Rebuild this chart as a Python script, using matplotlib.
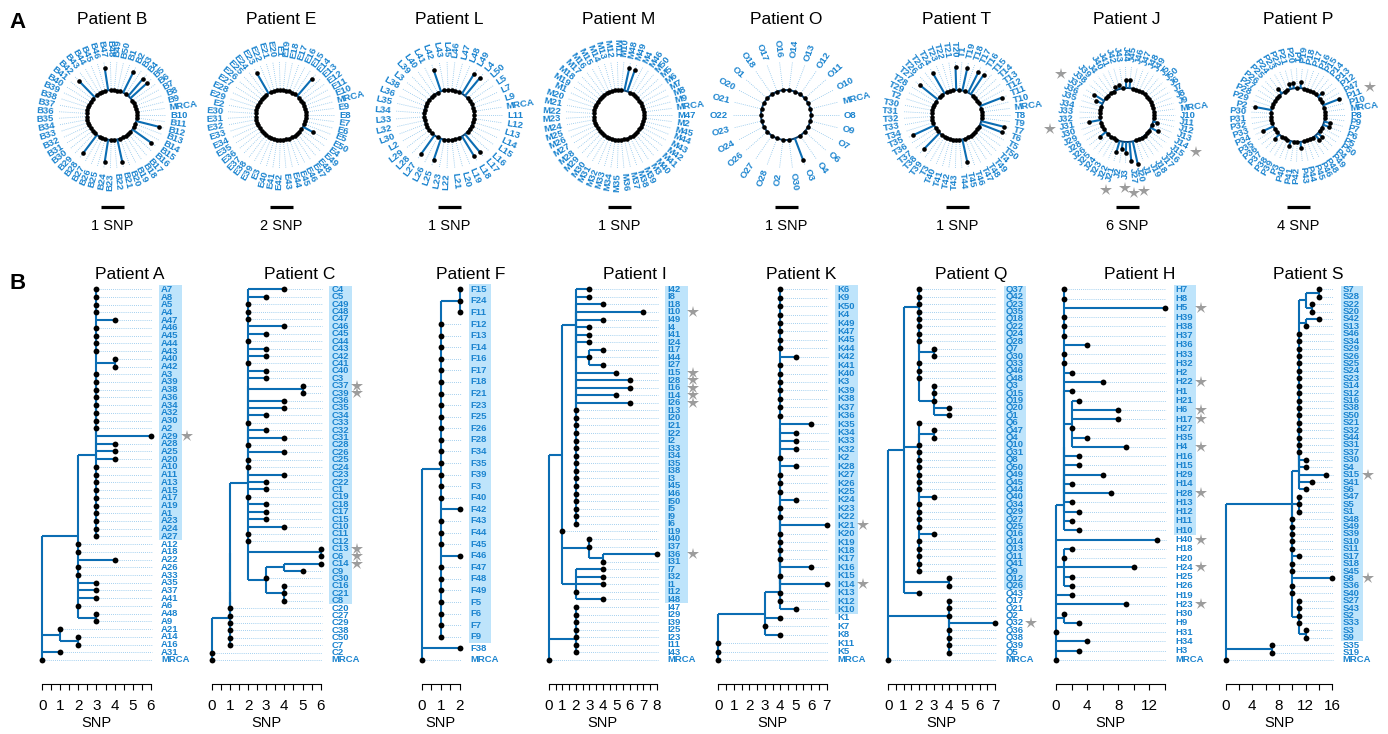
import numpy as np
import matplotlib
matplotlib.use("Agg")
import matplotlib.pyplot as plt
from matplotlib.patches import Rectangle

plt.rcParams['font.family'] = ['Liberation Sans', 'DejaVu Sans']

# ====================== DATA : panel A (circular trees) ======================
circ_patients = ['B', 'E', 'L', 'M', 'O', 'T', 'J', 'P']

B_labels = ['B10', 'MRCA', 'B9', 'B8', 'B7', 'B6', 'B5', 'B4', 'B3', 'B2', 'B1', 'B50', 'B49', 'B48',
            'B47', 'B46', 'B45', 'B44', 'B43', 'B42', 'B41', 'B40', 'B39', 'B38', 'B37', 'B36', 'B35',
            'B34', 'B33', 'B32', 'B31', 'B30', 'B29', 'B28', 'B27', 'B26', 'B25', 'B24', 'B23', 'B22',
            'B21', 'B20', 'B19', 'B18', 'B17', 'B16', 'B15', 'B14', 'B13', 'B12', 'B11']
B_branch = {'B5': 1, 'B4': 1, 'B2': 1, 'B47': 1, 'B42': 1, 'B28': 1, 'B24': 1, 'B21': 1, 'B15': 1, 'B12': 1}

E_labels = ['E8', 'E9', 'MRCA', 'E10', 'E11', 'E12', 'E13', 'E14', 'E15', 'E16', 'E17', 'E18', 'E19',
            'E1', 'E20', 'E21', 'E22', 'E23', 'E24', 'E25', 'E26', 'E27', 'E28', 'E29', 'E2', 'E30',
            'E31', 'E32', 'E33', 'E34', 'E35', 'E36', 'E37', 'E38', 'E39', 'E3', 'E40', 'E41', 'E42',
            'E43', 'E44', 'E45', 'E46', 'E47', 'E48', 'E49', 'E4', 'E50', 'E5', 'E6', 'E7']
E_branch = {'E23': 2, 'E14': 2, 'E50': 1}

L_labels = ['L11', 'MRCA', 'L9', 'L7', 'L5', 'L50', 'L4', 'L49', 'L48', 'L47', 'L46', 'L45', 'L43',
            'L42', 'L41', 'L40', 'L39', 'L3', 'L38', 'L36', 'L35', 'L34', 'L33', 'L32', 'L30', 'L2',
            'L29', 'L28', 'L27', 'L26', 'L25', 'L23', 'L22', 'L21', 'L20', 'L19', 'L18', 'L17', 'L16',
            'L15', 'L14', 'L13', 'L12']
L_branch = {'L42': 1, 'L49': 1, 'L4': 1, 'L27': 1, 'L25': 1, 'L18': 1, 'L17': 1}

M_labels = ['M47', 'MRCA', 'M9', 'M8', 'M7', 'M6', 'M5', 'M50', 'M46', 'M4', 'M49', 'M48', 'M10',
            'M11', 'M12', 'M13', 'M14', 'M15', 'M16', 'M17', 'M18', 'M19', 'M1', 'M20', 'M21', 'M22',
            'M23', 'M24', 'M25', 'M26', 'M27', 'M28', 'M29', 'M30', 'M31', 'M32', 'M33', 'M34', 'M35',
            'M36', 'M37', 'M38', 'M39', 'M3', 'M40', 'M41', 'M42', 'M43', 'M44', 'M45', 'M2']
M_branch = {'M49': 1, 'M48': 1}

O_labels = ['O8', 'MRCA', 'O10', 'O11', 'O12', 'O13', 'O14', 'O16', 'O17', 'O18', 'O1', 'O20', 'O21',
            'O22', 'O23', 'O24', 'O26', 'O27', 'O28', 'O2', 'O30', 'O3', 'O4', 'O6', 'O7', 'O9']
O_branch = {'O3': 1}

T_labels = ['T8', 'MRCA', 'T10', 'T11', 'T12', 'T13', 'T14', 'T15', 'T16', 'T17', 'T18', 'T19', 'T1',
            'T20', 'T21', 'T22', 'T23', 'T24', 'T25', 'T26', 'T27', 'T28', 'T29', 'T2', 'T30', 'T31',
            'T32', 'T33', 'T34', 'T35', 'T36', 'T37', 'T38', 'T39', 'T3', 'T40', 'T41', 'T42', 'T43',
            'T44', 'T45', 'T46', 'T47', 'T48', 'T49', 'T4', 'T50', 'T5', 'T6', 'T7', 'T9']
T_branch = {'T11': 1, 'T16': 1, 'T17': 1, 'T19': 1, 'T20': 1, 'T24': 1, 'T27': 1, 'T35': 1,
            'T38': 1, 'T45': 1, 'T6': 1, 'T7': 1}

J_labels = ['J10', 'MRCA', 'J9', 'J8', 'J7', 'J6', 'J50', 'J5', 'J49', 'J48', 'J47', 'J46', 'J45',
            'J44', 'J43', 'J42', 'J41', 'J40', 'J4', 'J39', 'J38', 'J37', 'J36', 'J35', 'J34', 'J33',
            'J32', 'J31', 'J30', 'J29', 'J28', 'J26', 'J25', 'J24', 'J23', 'J22', 'J21', 'J2', 'J3',
            'J27', 'J20', 'J1', 'J19', 'J18', 'J17', 'J16', 'J15', 'J14', 'J13', 'J12', 'J11']
J_branch = {'J45': 2, 'J44': 2, 'J42': 1, 'J41': 1, 'J37': 3, 'J36': 2, 'J31': 3, 'J26': 2,
            'J21': 3, 'J2': 2, 'J3': 3, 'J27': 5, 'J20': 6, 'J14': 2, 'J12': 1}
J_stars = ['J37', 'J31', 'J21', 'J3', 'J27', 'J20', 'J14']

P_labels = ['P8', 'MRCA', 'P10', 'P11', 'P47', 'P12', 'P13', 'P14', 'P15', 'P16', 'P17', 'P18', 'P19',
            'P1', 'P20', 'P21', 'P22', 'P23', 'P24', 'P25', 'P26', 'P27', 'P28', 'P29', 'P2', 'P30',
            'P31', 'P32', 'P33', 'P34', 'P35', 'P36', 'P37', 'P38', 'P39', 'P3', 'P40', 'P41', 'P42',
            'P43', 'P44', 'P45', 'P46', 'P48', 'P49', 'P4', 'P50', 'P5', 'P6', 'P7', 'P9']
P_branch = {'P11': 3, 'P13': 1, 'P19': 1, 'P20': 1, 'P21': 1, 'P24': 1, 'P2': 3, 'P34': 2,
            'P37': 1, 'P40': 1, 'P43': 1, 'P49': 1, 'P4': 1, 'P6': 1, 'P7': 1}
P_stars = ['P11']

circ_labels = {'B': B_labels, 'E': E_labels, 'L': L_labels, 'M': M_labels,
               'O': O_labels, 'T': T_labels, 'J': J_labels, 'P': P_labels}
circ_branch = {'B': B_branch, 'E': E_branch, 'L': L_branch, 'M': M_branch,
               'O': O_branch, 'T': T_branch, 'J': J_branch, 'P': P_branch}
circ_stars = {'J': J_stars, 'P': P_stars}
circ_scale_snp = {'B': 1, 'E': 2, 'L': 1, 'M': 1, 'O': 1, 'T': 1, 'J': 6, 'P': 4}

# ====================== DATA : panel B (rectangular trees, Newick) ======================
A_tree = ("((((A7:0,A8:0,A5:0,A4:0,A47:1,A46:0,A45:0,A44:0,A43:0,(A40:0,A42:0):1,"
          "A3:0,A39:0,A38:0,A36:0,A34:0,A32:0,A30:0,A2:0,A29:3,A28:1,A25:1,A20:1):0,"
          "A10:0,A11:0,A13:0,A15:0,A17:0,A19:0,A1:0,A23:0,A24:0,A27:0):1,"
          "A12:0,A18:0,A22:2,A26:0,A33:0,A35:1,A37:1,A41:1,A6:0,(A48:0,A9:0):1):2,"
          "(A21:0,(A14:0,A16:0):1):1,A31:1,MRCA:0)")

C_tree = ("((((((C4:2,C5:1,C49:0,C48:0,C47:0,C46:2,C45:1,C44:0,C43:1,C42:1,C41:0,C40:1,C3:1,"
          "(C37:0,C39:0):3,C36:2,C35:2,C34:1,C33:0,C32:1,C31:2,C28:0,C26:2,C25:0,C24:0,C23:2,C22:1):0,"
          "C1:1,C19:0,C18:1,C17:1,C15:1,C10:2,C11:0,C12:0,(C13:0,C6:0):4,"
          "((C14:2,C9:1):1,C30:0,(C16:0,C21:0,C8:0):1):1):1,"
          "C20:0,C27:0,C29:0):0,C38:0):0,C50:0,C7:0):1,C2:0,MRCA:0)")

F_tree = ("(((F15:0,F24:0,F11:0):1,F12:0,F13:0,F14:0,F16:0,F17:0,F18:0,F21:0,F23:0,F25:0,F26:0,"
          "F28:0,F34:0,F35:0,F39:0,F3:0,F40:0,F42:1,F43:0,F44:0,F45:0,F46:1,F47:0,F48:0,F49:0,"
          "F5:0,F6:0,F7:0,F9:0):1,F38:2,MRCA:0)")

I_tree = ("(((I42:1,I8:1,(I18:2,(I10:5,I49:2,I4:1,I41:1,I24:1,(I17:1,I44:0,I27:1):1,"
          "I15:3,I28:4,I16:4,I14:3,I26:4,I13:0,I20:0,I21:0,I22:0,I2:0,I33:0,I34:0,I35:0,"
          "I38:0,I3:0,I45:0,I46:0,I50:0,I5:0,I9:0,I6:0):0):0):1,"
          "I19:0,(I40:0,I37:0,(I36:4,I31:0):1):2,(I7:2,I32:2,I1:2,I12:0,I48:2):1):1,"
          "((I47:0,I29:0,I39:0,I25:0,I23:0,I11:0):0,I43:0):2,MRCA:0)")

K_tree = ("(((((((K6:0,K9:0,K50:0,K4:0,K49:0,K47:0,K45:0,K44:0,K42:1,K41:0,K40:0,K3:0,K39:0,"
          "K38:0,K37:0,K36:0,K35:2,K34:1,K33:1,K32:1,K2:0,K28:1,K27:0,K26:0,K25:0,K24:1,K23:0,"
          "K22:0,K21:3,K20:0,K19:0,K18:0,K17:0,K16:2):0,K15:0,K14:3):0,K13:0):0,K12:0):0,K10:1):1,"
          "K1:1,K7:0,K8:1):3,K11:0,K5:0,MRCA:0)")

Q_tree = ("(((Q37:0,(Q42:0,(Q23:0,Q35:0,Q18:0,Q22:0,Q24:0,Q28:0,(Q7:0,Q30:0):1,Q33:0,Q46:0,Q48:0,"
          "(Q3:0,Q15:0,Q19:0,Q20:1,Q1:1):1):0):0):1,"
          "(Q6:0,((Q47:0,Q4:0):1,(Q10:0,Q31:0,Q8:0,Q50:0,Q49:0,Q45:0,Q44:0,Q40:1,Q34:0,Q29:0,"
          "Q27:0,Q25:0,Q16:1,Q14:0,Q13:0,Q11:0,Q41:0,Q9:0):0):0):1,"
          "(Q12:0,Q26:0):3,Q43:1):1,"
          "(Q17:0,(Q21:0,Q2:0,Q32:3,Q36:0,Q38:0,Q39:0,Q5:0):0):4,MRCA:0)")

H_tree = ("(((((H7:0,H8:0,H5:13,H39:0,H38:0,H37:0,H36:3,H33:0,H32:0,H2:1,H22:5,H1:1,"
          "(H21:1,H6:6,H17:6,H27:0,H35:2,H4:7):1,H16:2,H15:2,H29:5,H14:1,H28:6):0,H13:1):0,"
          "H12:2):0,H11:1,H10:2):1,H40:13,(H18:1,H20:0,H24:9,H25:1,H26:1):1,H19:2,H23:9,"
          "(H30:0,H9:2):1,H31:0,H34:4,H3:3,MRCA:0)")

S_tree = ("((((((((S7:0,S28:0):2,(S22:0,S20:0):1):1,(S42:2,S13:0):1,S46:0,S34:0,S29:0,S26:0,"
          "S25:0,S24:0,S23:0,S14:0,S12:0,S16:0,S38:0,S50:0,S21:0,S32:0,S44:0,S31:0,S37:0,S30:1):0,"
          "S4:1):0,S15:4,S41:2):0,S6:1):1,"
          "((S47:0,S5:0,S1:0):1,(S48:0,S49:0,S39:0,S10:0,S11:0,S17:1,S18:0,S45:0,S8:6,S36:0,S40:0,"
          "(S27:0,S43:0,S2:0,S33:0,(S3:0,S9:0):1):1):0):0):10,(S35:0,S19:0):7,MRCA:0)")

rect_patients = ['A', 'C', 'F', 'I', 'K', 'Q', 'H', 'S']
rect_trees = {'A': A_tree, 'C': C_tree, 'F': F_tree, 'I': I_tree,
              'K': K_tree, 'Q': Q_tree, 'H': H_tree, 'S': S_tree}
rect_xmax = {'A': 6, 'C': 6, 'F': 2, 'I': 8, 'K': 7, 'Q': 7, 'H': 14, 'S': 16}
rect_major = {'A': 1, 'C': 1, 'F': 1, 'I': 1, 'K': 1, 'Q': 1, 'H': 4, 'S': 4}
rect_minor = {'A': 0.5, 'C': 0.5, 'F': 0.5, 'I': 0.5, 'K': 0.5, 'Q': 0.5, 'H': 2, 'S': 2}
rect_highlight_rows = {'A': 33, 'C': 43, 'F': 31, 'I': 42, 'K': 39, 'Q': 41, 'H': 27, 'S': 48}
rect_stars = {'A': ['A29'], 'C': ['C37', 'C39', 'C13', 'C6', 'C14'], 'F': [],
              'I': ['I10', 'I15', 'I28', 'I16', 'I14', 'I26', 'I36'], 'K': ['K21', 'K14'],
              'Q': ['Q32'], 'H': ['H5', 'H22', 'H6', 'H17', 'H4', 'H28', 'H40', 'H24', 'H23'],
              'S': ['S15', 'S8']}

# ====================== LAYOUT / STYLE ======================
W, H = 1388, 734
LINE = '#0b6db3'
TEXT = '#1b84cf'
DOTC = '#86c1ea'
HL = '#bee4fb'
STAR = '#9c9c9c'

circ_cx = [112, 281, 449, 619, 786, 957, 1127, 1298]
circ_cy = 115
circ_ring = {'B': 25, 'E': 25, 'L': 25, 'M': 25, 'O': 25, 'T': 25, 'J': 27, 'P': 27}
circ_labr = {'B': 58, 'E': 58, 'L': 58, 'M': 58, 'O': 58, 'T': 58, 'J': 53, 'P': 52}

rect_x0 = [42.3, 211.7, 421.7, 549.0, 718.3, 888.3, 1056.0, 1225.7]
rect_x1 = [150.7, 320.7, 460.0, 656.7, 826.7, 995.0, 1165.0, 1332.3]
rect_title_x = [130, 300, 471, 635, 801, 971, 1140, 1308]
ROW_TOP, ROW_BOT, AX_TOP, AX_BOT = 289.3, 660.0, 280.0, 684.0


def parse_newick(s):
    pos = 0

    def node():
        nonlocal pos
        if s[pos] == '(':
            pos += 1
            ch = [node()]
            while s[pos] == ',':
                pos += 1
                ch.append(node())
            assert s[pos] == ')'
            pos += 1
            name = None
        else:
            st = pos
            while s[pos] not in ':,()':
                pos += 1
            name = s[st:pos]
            ch = []
        ln = 0.0
        if pos < len(s) and s[pos] == ':':
            pos += 1
            st = pos
            while pos < len(s) and s[pos] not in ',()':
                pos += 1
            ln = float(s[st:pos])
        return {'name': name, 'len': ln, 'children': ch}

    return node()


def layout(nd, x0, leaves):
    nd['x'] = x0 + nd['len']
    if not nd['children']:
        nd['y'] = float(len(leaves))
        leaves.append(nd)
    else:
        for c in nd['children']:
            layout(c, nd['x'], leaves)
        nd['y'] = 0.5 * (nd['children'][0]['y'] + nd['children'][-1]['y'])


def draw_edges(ax, nd):
    if nd['children']:
        y0, y1 = nd['children'][0]['y'], nd['children'][-1]['y']
        ax.plot([nd['x'], nd['x']], [y0, y1], color=LINE, lw=1.5, clip_on=False, zorder=2,
                solid_capstyle='butt')
        for c in nd['children']:
            if c['len'] > 0:
                ax.plot([nd['x'], c['x']], [c['y'], c['y']], color=LINE, lw=1.5, clip_on=False,
                        zorder=2, solid_capstyle='butt')
            draw_edges(ax, c)


fig = plt.figure(figsize=(W / 100, H / 100), dpi=100)

# ---------------- panel A ----------------
for k, p in enumerate(circ_patients):
    cx = circ_cx[k]
    ax = fig.add_axes([(cx - 100) / W, 1 - (circ_cy + 100) / H, 200 / W, 200 / H])
    ax.set_xlim(-100, 100)
    ax.set_ylim(-100, 100)
    ax.set_axis_off()
    labels = circ_labels[p]
    br = circ_branch[p]
    stars = circ_stars.get(p, [])
    n = len(labels)
    pps = 23.0 / circ_scale_snp[p]
    R0 = circ_ring[p]
    LR = circ_labr[p]
    t = np.linspace(0, 2 * np.pi, 400)
    ax.plot(R0 * np.cos(t), R0 * np.sin(t), color='#0a3a66', lw=1.4, zorder=2)
    for i, lab in enumerate(labels):
        a = 2 * np.pi * i / n
        c, s = np.cos(a), np.sin(a)
        b = br.get(lab, 0)
        r = R0 + b * pps
        if b > 0:
            ax.plot([R0 * c, r * c], [R0 * s, r * s], color=LINE, lw=1.5, zorder=2,
                    solid_capstyle='butt')
        ax.plot([r * c], [r * s], 'o', color='black', ms=3.3, mew=0, zorder=4)
        if LR - 5 > r + 2:
            ax.plot([(r + 2) * c, (LR - 5) * c], [(r + 2) * s, (LR - 5) * s],
                    ls=(0, (1, 1.5)), color=DOTC, lw=0.6, zorder=1)
        deg = np.degrees(a)
        if 90 < deg < 270:
            rot, ha = deg - 180, 'right'
        else:
            rot, ha = (deg - 360 if deg >= 270 else deg), 'left'
        ax.text(LR * c, LR * s, lab, rotation=rot, rotation_mode='anchor', ha=ha, va='center',
                fontsize=6.8, fontweight='bold', color=TEXT, clip_on=False)
        if lab in stars:
            rs = LR + 5.0 * len(lab) + 10
            ax.plot([rs * c], [rs * s], marker='*', color=STAR, ms=9, mew=0, clip_on=False)
    # scale bar
    ax.plot([-11.5, 11.5], [circ_cy - 207, circ_cy - 207], color='black', lw=2.3,
            solid_capstyle='butt', clip_on=False)
    ax.text(0, circ_cy - 226, '%d SNP' % circ_scale_snp[p], ha='center', va='center',
            fontsize=10.5, clip_on=False)
    fig.text(cx / W, 1 - 20 / H, 'Patient %s' % p, ha='center', va='center', fontsize=12.5)

# ---------------- panel B ----------------
for k, p in enumerate(rect_patients):
    x0, x1 = rect_x0[k], rect_x1[k]
    ax = fig.add_axes([x0 / W, 1 - AX_BOT / H, (x1 - x0) / W, (AX_BOT - AX_TOP) / H])
    root = parse_newick(rect_trees[p])
    leaves = []
    layout(root, 0.0, leaves)
    n = len(leaves)
    xmax = rect_xmax[p]
    ppu = (x1 - x0) / xmax
    sp = (ROW_BOT - ROW_TOP) / (n - 1)
    ax.set_xlim(0, xmax)
    ax.set_ylim(n - 1 + (AX_BOT - ROW_BOT) / sp, -(ROW_TOP - AX_TOP) / sp)
    ax.patch.set_alpha(0)
    nh = rect_highlight_rows[p]
    ax.add_patch(Rectangle((xmax + 8.5 / ppu, -0.5), 22.5 / ppu, nh, facecolor=HL,
                           edgecolor='none', clip_on=False, zorder=0))
    draw_edges(ax, root)
    for i, lf in enumerate(leaves):
        if lf['x'] < xmax:
            ax.plot([lf['x'], xmax + 1.0 / ppu], [i, i], ls=(0, (1, 1.5)), color=DOTC, lw=0.6,
                    clip_on=False, zorder=1)
        ax.plot([lf['x']], [i], 'o', color='black', ms=4.2, mew=0, clip_on=False, zorder=4)
        ax.text(xmax + 10.5 / ppu, i, lf['name'], ha='left', va='center', fontsize=6.8,
                fontweight='bold', color=TEXT, clip_on=False, zorder=3)
        if lf['name'] in rect_stars[p]:
            ax.plot([xmax + 36 / ppu], [i], marker='*', color=STAR, ms=9, mew=0, clip_on=False)
    for sname in ['left', 'right', 'top']:
        ax.spines[sname].set_visible(False)
    ax.spines['bottom'].set_bounds(0, xmax)
    ax.spines['bottom'].set_linewidth(0.8)
    ticks = np.arange(0, xmax + 1e-9, rect_minor[p])
    ax.set_xticks(ticks)
    ax.set_xticklabels(['%d' % v if abs(v / rect_major[p] - round(v / rect_major[p])) < 1e-9 else ''
                        for v in ticks])
    ax.tick_params(axis='x', direction='out', length=4, width=0.8, labelsize=11, pad=7)
    ax.set_yticks([])
    ax.set_xlabel('SNP', fontsize=10.5, labelpad=2)
    fig.text(rect_title_x[k] / W, 1 - 275 / H, 'Patient %s' % p, ha='center', va='center',
             fontsize=12.5)

fig.text(18 / W, 1 - 22 / H, 'A', fontsize=16, fontweight='bold', ha='center', va='center')
fig.text(18 / W, 1 - 284 / H, 'B', fontsize=16, fontweight='bold', ha='center', va='center')

fig.savefig('out.png', dpi=100)
